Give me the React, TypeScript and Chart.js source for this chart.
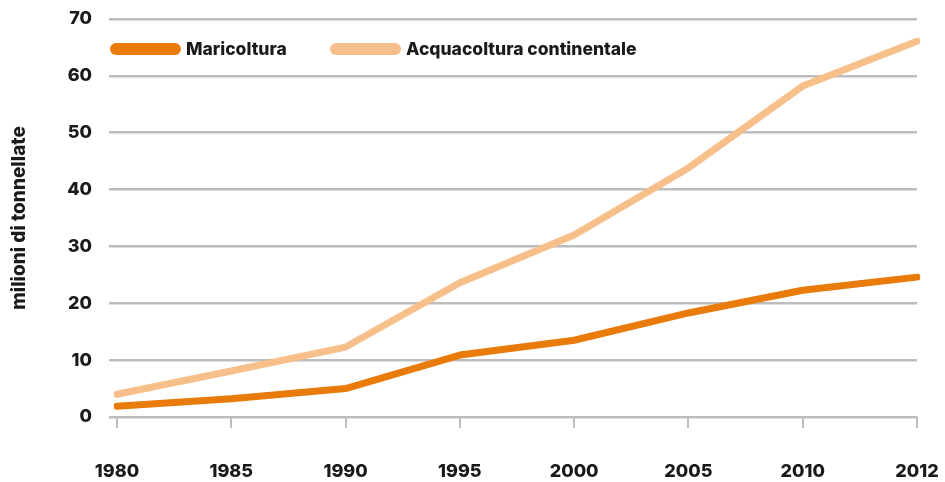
import React, { useEffect, useRef } from "react";
import { Chart, registerables } from "chart.js";

Chart.register(...registerables);

const years = ["1980", "1985", "1990", "1995", "2000", "2005", "2010", "2012"];
const maricoltura = [1.9, 3.2, 5.0, 10.9, 13.5, 18.3, 22.3, 24.6];
const acquacoltura = [4.0, 8.1, 12.3, 23.6, 32.0, 43.8, 58.2, 66.1];
const seriesLabels = ["Maricoltura", "Acquacoltura continentale"];
const seriesColors = ["#E97B0B", "#F7BF89"];
const yTitle = "milioni di tonnellate";

const FONT = "Inter, Lato, sans-serif";

const legendPlugin = {
  id: "customLegend",
  afterDraw(chart: any) {
    const ctx = chart.ctx;
    const y = 49;
    const starts = [110, 330];
    ctx.save();
    chart.data.datasets.forEach((ds: any, i: number) => {
      const x0 = starts[i];
      ctx.strokeStyle = ds.borderColor;
      ctx.lineWidth = 12;
      ctx.lineCap = "round";
      ctx.beginPath();
      ctx.moveTo(x0 + 6, y);
      ctx.lineTo(x0 + 65, y);
      ctx.stroke();
      ctx.fillStyle = "#1a1a1a";
      ctx.font = `800 17.5px ${FONT}`;
      ctx.textBaseline = "middle";
      ctx.textAlign = "left";
      ctx.fillText(ds.label, x0 + 76, y + 1);
    });
    ctx.restore();
  },
};

export default function App() {
  const ref = useRef<HTMLCanvasElement>(null);
  useEffect(() => {
    if (!ref.current) return;
    const chart = new Chart(ref.current, {
      type: "line",
      data: {
        labels: years,
        datasets: [
          {
            label: seriesLabels[0],
            data: maricoltura,
            borderColor: seriesColors[0],
            backgroundColor: seriesColors[0],
            borderWidth: 7,
            pointRadius: 0,
            tension: 0,
            borderCapStyle: "round",
            borderJoinStyle: "round",
          },
          {
            label: seriesLabels[1],
            data: acquacoltura,
            borderColor: seriesColors[1],
            backgroundColor: seriesColors[1],
            borderWidth: 7,
            pointRadius: 0,
            tension: 0,
            borderCapStyle: "round",
            borderJoinStyle: "round",
          },
        ],
      },
      options: {
        animation: false,
        responsive: false,
        maintainAspectRatio: false,
        layout: { padding: { top: 19, right: 28, left: 0, bottom: 0 } },
        plugins: {
          legend: { display: false },
          tooltip: { enabled: false },
        },
        scales: {
          x: {
            offset: false,
            border: { display: false },
            grid: {
              drawOnChartArea: false,
              drawTicks: true,
              tickLength: 11,
              color: "#BDBDBD",
              lineWidth: 2,
            },
            ticks: {
              color: "#1a1a1a",
              font: { family: FONT, size: 18, weight: "800" },
              padding: 33,
              maxRotation: 0,
              autoSkip: false,
            },
            afterFit: (s: any) => {
              s.height = 65;
              s.paddingLeft = 0;
              s.paddingRight = 0;
            },
          },
          y: {
            min: 0,
            max: 70,
            border: { display: false },
            grid: {
              color: "#BDBDBD",
              lineWidth: 2.5,
              drawTicks: true,
              tickLength: 8,
            },
            ticks: {
              stepSize: 10,
              color: "#1a1a1a",
              font: { family: FONT, size: 18, weight: "800" },
              padding: 17,
            },
            title: {
              display: true,
              text: yTitle,
              color: "#1a1a1a",
              font: { family: FONT, size: 19, weight: "800" },
              padding: { top: 8, bottom: 0 },
            },
            afterFit: (s: any) => {
              s.width = 117;
              s.paddingTop = 0;
              s.paddingBottom = 0;
            },
          },
        },
      },
      plugins: [legendPlugin],
    });
    return () => chart.destroy();
  }, []);
  return (
    <div style={{ position: "absolute", left: 0, top: 0, width: 945, height: 482, background: "#fff" }}>
      <canvas ref={ref} width={945} height={482} style={{ width: 945, height: 482, display: "block" }} />
    </div>
  );
}
